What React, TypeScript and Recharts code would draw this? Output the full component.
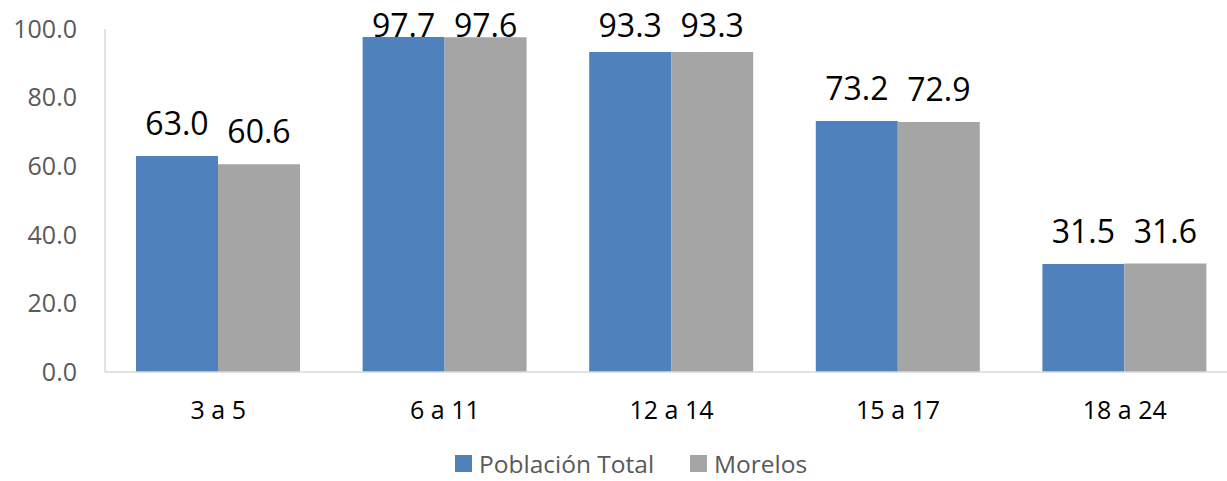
import { Bar, BarChart, LabelList, Legend, XAxis, YAxis } from "recharts";

const categories = ["3 a 5", "6 a 11", "12 a 14", "15 a 17", "18 a 24"];
const poblacionTotal = [63.0, 97.7, 93.3, 73.2, 31.5];
const morelos = [60.6, 97.6, 93.3, 72.9, 31.6];
const yTicks = [0, 20, 40, 60, 80, 100];

const seriesNames = ["Población Total", "Morelos"];
const seriesColors = ["#4F81BD", "#A5A5A5"];

const data = categories.map((name, i) => ({
  name,
  total: poblacionTotal[i],
  morelos: morelos[i],
}));

const FONT = "'Open Sans', 'Noto Sans', sans-serif";

// labels sit 21px above the bar but never higher than the chart top allows
function ValueLabel(props: any) {
  const { x, y, width, value } = props;
  const baseline = Math.max(Number(y) - 21, 36.5);
  return (
    <text x={Number(x) + Number(width) / 2} y={baseline} textAnchor="middle" fill="#000" fontSize={32} fontFamily={FONT}>
      {Number(value).toFixed(1)}
    </text>
  );
}

function ChartLegend() {
  return (
    <div style={{ display: "flex", alignItems: "center", height: 25, lineHeight: "25px", fontFamily: FONT, fontSize: 24.5, color: "#595959" }}>
      {seriesNames.map((name, i) => (
        <div key={name} style={{ display: "flex", alignItems: "center", marginRight: 36 }}>
          <span style={{ display: "inline-block", width: 17, height: 17, background: seriesColors[i], marginRight: 7 }} />
          <span>{name}</span>
        </div>
      ))}
    </div>
  );
}

export default function App() {
  return (
    <div style={{ position: "absolute", left: 0, top: 0, width: 1227, height: 481, overflow: "hidden", background: "#fff" }}>
      <BarChart
        width={1238}
        height={481}
        data={data}
        margin={{ top: 29, right: 0, bottom: 0, left: 0 }}
        barCategoryGap={31}
        barGap={0}
      >
        <XAxis
          dataKey="name"
          height={84}
          tickLine={false}
          tickSize={0}
          tickMargin={29}
          axisLine={{ stroke: "#d9d9d9", strokeWidth: 1.5 }}
          tick={{ fill: "#000", fontSize: 25, fontFamily: FONT }}
        />
        <YAxis
          width={105}
          domain={[0, 100]}
          ticks={yTicks}
          tickFormatter={(v: number) => v.toFixed(1)}
          tickLine={false}
          tickSize={0}
          tickMargin={28}
          axisLine={{ stroke: "#d9d9d9", strokeWidth: 1.5 }}
          tick={{ fill: "#595959", fontSize: 25, fontFamily: FONT }}
        />
        <Legend
          verticalAlign="bottom"
          height={25}
          content={<ChartLegend />}
          wrapperStyle={{ left: 455, width: 500, height: 25, top: 451, bottom: "auto" }}
        />
        <Bar dataKey="total" name={seriesNames[0]} fill={seriesColors[0]} isAnimationActive={false}>
          <LabelList dataKey="total" content={ValueLabel} />
        </Bar>
        <Bar dataKey="morelos" name={seriesNames[1]} fill={seriesColors[1]} isAnimationActive={false}>
          <LabelList dataKey="morelos" content={ValueLabel} />
        </Bar>
      </BarChart>
    </div>
  );
}
